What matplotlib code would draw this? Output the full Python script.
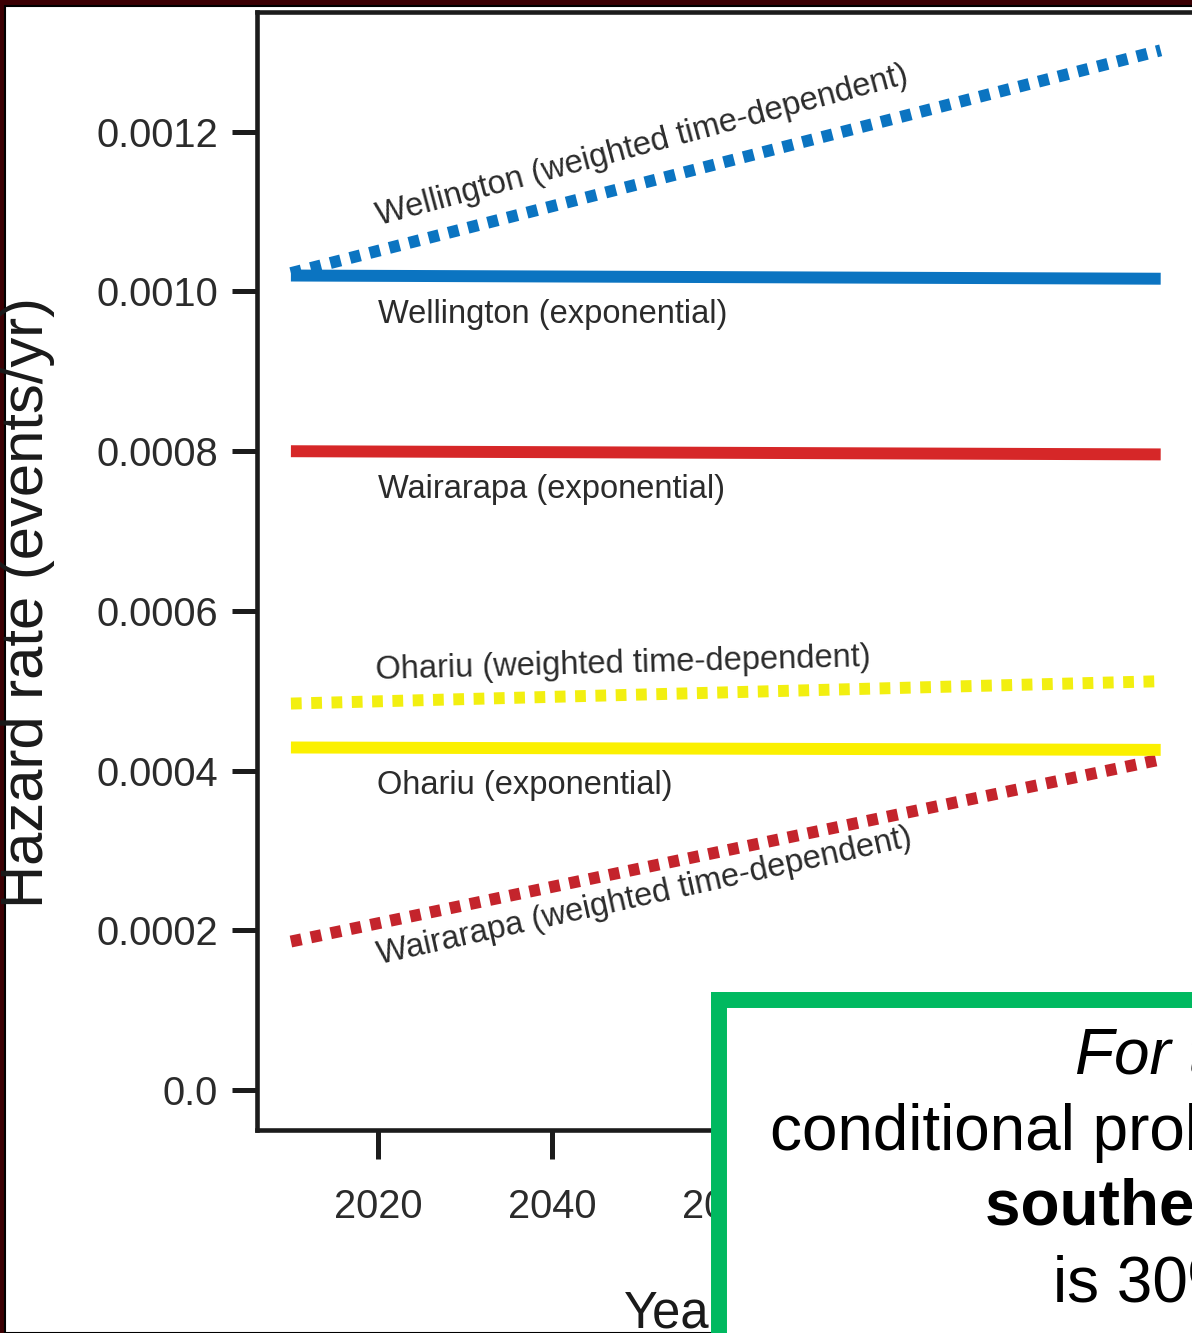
import matplotlib
matplotlib.use("Agg")
import matplotlib.pyplot as plt
from matplotlib.patches import Rectangle
from matplotlib import font_manager

# ---------------------------------------------------------------
# Data
# ---------------------------------------------------------------
years = [2010, 2110]

wellington_exp = [0.001020, 0.001016]
wellington_td = [0.001023, 0.001302]
wairarapa_exp = [0.000800, 0.000796]
wairarapa_td = [0.000186, 0.000414]
ohariu_exp = [0.000429, 0.000426]
ohariu_td = [0.000484, 0.000512]

x_ticks = [2020, 2040, 2060, 2080, 2100]
y_ticks = [0.0, 0.0002, 0.0004, 0.0006, 0.0008, 0.0010, 0.0012]
y_tick_labels = ["0.0", "0.0002", "0.0004", "0.0006", "0.0008", "0.0010", "0.0012"]

box_lines = ["For the next 100 years, the",
             "conditional probability of rupture",
             "southern Wairarapa Fault",
             "is 30%"]

# ---------------------------------------------------------------
# Fonts (condensed face if there is one, else a smaller Liberation Sans)
# ---------------------------------------------------------------
installed = {f.name for f in font_manager.fontManager.ttflist}
has_narrow = "Liberation Sans Narrow" in installed
narrow = "Liberation Sans Narrow" if has_narrow else "Liberation Sans"
regular = "Liberation Sans"
k = 1.0 if has_narrow else 0.87   # shrink factor when no narrow face

W, H = 1192, 1333


def fx(px):
    return px / W


def fy(py):
    return 1 - py / H


fig = plt.figure(figsize=(W / 100, H / 100), dpi=100, facecolor="#3b0003")

# white slide area inside the dark frame
fig.add_artist(Rectangle((fx(5), 0), 1, fy(6), transform=fig.transFigure,
                         facecolor="white", edgecolor="black", linewidth=1.5, zorder=-1))

# ---------------------------------------------------------------
# Main axes
# ---------------------------------------------------------------
ax = fig.add_axes([fx(257), fy(1130), fx(W) - fx(257), fy(12) - fy(1130)])
ax.set_xlim(2006.1, 2113.6)
ax.set_ylim(-0.00005, 0.00135)

lw = 8.6
dots = (0, (0.9, 0.8))
ax.plot(years, wellington_exp, color="#0b74c1", lw=lw, solid_capstyle="butt")
ax.plot(years, wellington_td, color="#0b74c1", lw=lw, linestyle=dots, dash_capstyle="butt")
ax.plot(years, wairarapa_exp, color="#d62728", lw=lw, solid_capstyle="butt")
ax.plot(years, wairarapa_td, color="#c4242c", lw=lw, linestyle=dots, dash_capstyle="butt")
ax.plot(years, ohariu_td, color="#f2ef10", lw=lw, linestyle=dots, dash_capstyle="butt")
ax.plot(years, ohariu_exp, color="#fbf000", lw=lw, solid_capstyle="butt")

txt = dict(fontfamily=narrow, fontsize=27 * k, color="#2b2b2b", ha="left", va="baseline",
           rotation_mode="anchor")
ax.text(2020.2, 0.001083, "Wellington (weighted time-dependent)", rotation=15, **txt)
ax.text(2020.0, 0.000960, "Wellington (exponential)", **txt)
ax.text(2020.0, 0.000741, "Wairarapa (exponential)", **txt)
ax.text(2019.8, 0.000515, "Ohariu (weighted time-dependent)", rotation=1.5, **txt)
ax.text(2019.9, 0.000371, "Ohariu (exponential)", **txt)
ax.text(2020.2, 0.000158, "Wairarapa (weighted time-dependent)", rotation=12.5, **txt)

ax.spines["right"].set_visible(False)
for s in ["top", "left", "bottom"]:
    ax.spines[s].set_linewidth(3.3)
    ax.spines[s].set_color("#1c1c1c")

ax.set_xticks(x_ticks)
ax.set_yticks(y_ticks)
ax.set_yticklabels(y_tick_labels)
ax.tick_params(axis="y", length=18, width=3.6, pad=10, color="#1c1c1c",
               labelsize=33 * k, labelcolor="#2b2b2b")
ax.tick_params(axis="x", length=21, width=3.6, pad=21, color="#1c1c1c",
               labelsize=33 * k, labelcolor="#2b2b2b")
for lab in ax.get_xticklabels() + ax.get_yticklabels():
    lab.set_fontfamily(narrow)

fig.text(fx(28), fy(602), "Hazard rate (events/yr)", rotation=90, ha="center", va="center",
         fontfamily=regular, fontsize=43, color="#1a1a1a")
fig.text(fx(624), fy(1328), "Year", ha="left", va="baseline",
         fontfamily=narrow, fontsize=42 * k, color="#1a1a1a")

# ---------------------------------------------------------------
# Green call-out box (cut off by the slide edge)
# ---------------------------------------------------------------
border = 11.5  # points, about 16 px
half = border / 72 * 100 / 2
box = fig.add_axes([fx(711 + half), 0, 1 - fx(711 + half), fy(992 + half)], zorder=5)
box.set_facecolor("white")
box.set_xticks([])
box.set_yticks([])
for s in ["right", "bottom"]:
    box.spines[s].set_visible(False)
for s in ["top", "left"]:
    box.spines[s].set_color("#00b960")
    box.spines[s].set_linewidth(border)
    box.spines[s].set_capstyle("projecting")

line_pos = [(1075, 1074), (770, 1150), (985, 1225), (1053, 1302)]
styles = [dict(style="italic"), dict(), dict(weight="bold"), dict()]
for (px, py), line, st in zip(line_pos, box_lines, styles):
    t = box.text(fx(px), fy(py), line, transform=fig.transFigure, ha="left", va="baseline",
                 fontfamily=regular, fontsize=46, color="black", clip_on=True, **st)
    t.set_clip_box(box.bbox)

fig.savefig("out.png", dpi=100, facecolor=fig.get_facecolor())
